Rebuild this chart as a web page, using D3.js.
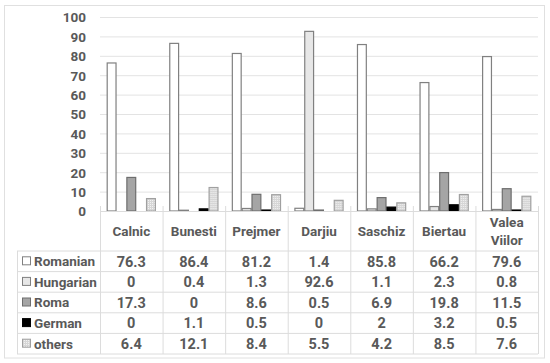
<!DOCTYPE html>
<html>
<head>
<meta charset="utf-8">
<script src="https://d3js.org/d3.v7.min.js"></script>
<style>
  body { margin: 0; background: #fff; }
  text { font-family: Roboto, "Noto Sans", sans-serif; font-weight: 700; fill: #595959; }
</style>
</head>
<body>
<div class="vis"></div>
<script>
var villages = ["Calnic", "Bunesti", "Prejmer", "Darjiu", "Saschiz", "Biertau", "Valea Viilor"];
var groups = ["Romanian", "Hungarian", "Roma", "German", "others"];
var romanian  = [76.3, 86.4, 81.2, 1.4, 85.8, 66.2, 79.6];
var hungarian = [0, 0.4, 1.3, 92.6, 1.1, 2.3, 0.8];
var roma      = [17.3, 0, 8.6, 0.5, 6.9, 19.8, 11.5];
var german    = [0, 1.1, 0.5, 0, 2, 3.2, 0.5];
var others    = [6.4, 12.1, 8.4, 5.5, 4.2, 8.5, 7.6];
var yTicks = [0, 10, 20, 30, 40, 50, 60, 70, 80, 90, 100];

var series = [romanian, hungarian, roma, german, others];
var fills = ["#ffffff", "#e7e7e7", "#a5a5a5", "#000000", "url(#dots)"];
var strokes = ["#808080", "#808080", "#6e6e6e", "#000000", "#a0a0a0"];

var width = 550, height = 363;
var margin = { top: 17, right: 12, left: 100, bottom: 152 };
var rowH = 20.6, headH = 40, tableLeft = 17;
var fs = "13.5px", fsVal = "14.5px";

var svg = d3.select(".vis").append("svg")
    .attr("width", width).attr("height", height)
    .attr("viewBox", [0, 0, width, height]);

var defs = svg.append("defs");
var pat = defs.append("pattern").attr("id", "dots")
    .attr("width", 2).attr("height", 2).attr("patternUnits", "userSpaceOnUse");
pat.append("rect").attr("width", 2).attr("height", 2).attr("fill", "#d6d6d6");
pat.append("rect").attr("width", 1).attr("height", 1).attr("fill", "#f2f2f2");

// outer frame
svg.append("rect").attr("x", 4.5).attr("y", 5.5).attr("width", 540).attr("height", 352.5)
    .attr("fill", "#fff").attr("stroke", "#e0e0e0");

var x0 = d3.scaleBand().domain(villages).range([margin.left, width - margin.right]).paddingInner(0).paddingOuter(0);
var x1 = d3.scaleBand().domain(groups).range([0, x0.bandwidth()]).paddingInner(0).paddingOuter(0.68);
var y = d3.scaleLinear().domain([0, 100]).range([height - margin.bottom, margin.top]);

// gridlines
svg.append("g").selectAll("line").data(yTicks.slice(1)).join("line")
    .attr("x1", margin.left).attr("x2", width - margin.right)
    .attr("y1", d => y(d) + 0.5).attr("y2", d => y(d) + 0.5)
    .attr("stroke", "#e3e3e3");

// y axis
var yAxis = svg.append("g")
    .attr("transform", `translate(${margin.left - 14},0)`)
    .call(d3.axisLeft(y).tickValues(yTicks).tickSize(0).tickPadding(0));
yAxis.select(".domain").remove();
yAxis.selectAll("text").style("font-size", fs).attr("fill", "#595959").attr("dy", "0.36em");

// bars
villages.forEach(function (v, i) {
    var g = svg.append("g").attr("transform", `translate(${x0(v)},0)`);
    g.selectAll("rect").data(groups).join("rect")
        .attr("x", d => x1(d) + 0.5)
        .attr("width", x1.bandwidth() - 1)
        .attr("y", (d, k) => y(series[k][i]))
        .attr("height", (d, k) => y(0) - y(series[k][i]))
        .attr("fill", (d, k) => fills[k])
        .attr("stroke", (d, k) => strokes[k])
        .attr("stroke-width", 1.2);
});

// data table
var tableTop = y(0);
var rowsTop = tableTop + headH;
var tableBottom = rowsTop + rowH * groups.length;
var tcol = "#dcdcdc";
var tg = svg.append("g");

tg.append("line").attr("x1", margin.left).attr("x2", width - margin.right)
    .attr("y1", tableTop + 0.5).attr("y2", tableTop + 0.5).attr("stroke", tcol);
d3.range(groups.length + 1).forEach(function (r) {
    tg.append("line").attr("x1", tableLeft).attr("x2", width - margin.right)
        .attr("y1", rowsTop + r * rowH).attr("y2", rowsTop + r * rowH).attr("stroke", tcol);
});
villages.concat([null]).forEach(function (v, i) {
    var xx = v ? x0(v) : width - margin.right;
    tg.append("line").attr("x1", xx + 0.5).attr("x2", xx + 0.5)
        .attr("y1", tableTop - 5).attr("y2", tableBottom).attr("stroke", tcol);
});
tg.append("line").attr("x1", tableLeft + 0.5).attr("x2", tableLeft + 0.5)
    .attr("y1", rowsTop).attr("y2", tableBottom).attr("stroke", tcol);

// header labels
villages.forEach(function (v) {
    var words = v.split(" ");
    var cx = x0(v) + x0.bandwidth() / 2;
    var t = tg.append("text").attr("text-anchor", "middle").style("font-size", fs);
    words.forEach(function (w, k) {
        t.append("tspan").attr("x", cx)
            .attr("y", tableTop + headH / 2 + (k - (words.length - 1) / 2) * 18.5)
            .attr("dy", "0.36em").text(w);
    });
});

// rows
groups.forEach(function (gname, r) {
    var cy = rowsTop + r * rowH + rowH / 2;
    tg.append("rect").attr("x", 22.5).attr("y", cy - 4.5).attr("width", 8).attr("height", 8)
        .attr("fill", fills[r]).attr("stroke", strokes[r]);
    tg.append("text").attr("x", 34).attr("y", cy).attr("dy", "0.36em")
        .style("font-size", fs).text(gname);
    villages.forEach(function (v, i) {
        tg.append("text").attr("x", x0(v) + x0.bandwidth() / 2).attr("y", cy).attr("dy", "0.36em")
            .attr("text-anchor", "middle").style("font-size", fsVal).text(series[r][i]);
    });
});
</script>
</body>
</html>
